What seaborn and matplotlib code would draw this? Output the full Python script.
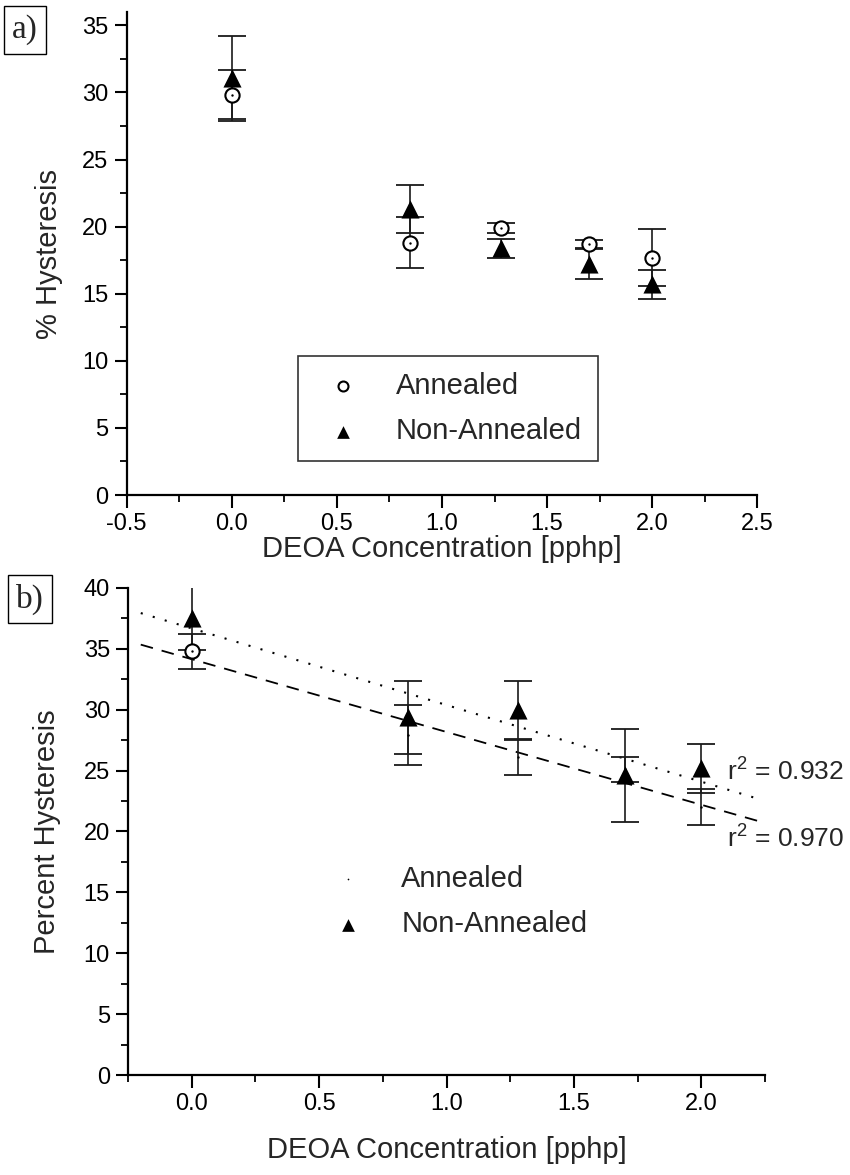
import numpy as np
import pandas as pd
import matplotlib
matplotlib.use("Agg")
import matplotlib.pyplot as plt
from matplotlib.ticker import MultipleLocator, FormatStrFormatter
import seaborn as sns

# ---- data ----
conc = [0.0, 0.85, 1.28, 1.70, 2.00]

# panel a
hyst_a_annealed = [29.8, 18.8, 19.9, 18.7, 17.7]
err_a_annealed = [1.9, 1.9, 0.4, 0.3, 2.1]
hyst_a_nonannealed = [31.1, 21.3, 18.4, 17.2, 15.7]
err_a_nonannealed = [3.1, 1.8, 0.7, 1.1, 1.1]

# panel b
hyst_b_annealed = [34.8, 27.9, 26.1, 25.1, 22.0]
err_b_annealed = [1.45, 2.45, 1.45, 1.0, 1.45]
hyst_b_nonannealed = [37.5, 29.4, 30.0, 24.6, 25.2]
err_b_nonannealed = [2.6, 3.0, 2.4, 3.8, 2.0]

r2_labels = ["r$^2$ = 0.932", "r$^2$ = 0.970"]
series_names = ["Annealed", "Non-Annealed"]

sns.set_theme(style="ticks")
plt.rcParams["font.family"] = ["Liberation Sans", "DejaVu Sans"]
plt.rcParams["mathtext.fontset"] = "custom"
plt.rcParams["mathtext.rm"] = "Liberation Sans"

fig = plt.figure(figsize=(8.5, 11.75), dpi=100)
ax1 = fig.add_axes([0.149, 0.5787, 0.742, 0.4111])
ax2 = fig.add_axes([0.1506, 0.0851, 0.7494, 0.4145])

ecol = "#1a1a1a"

def style_axes(ax):
    for s in ["top", "right"]:
        ax.spines[s].set_visible(False)
    for s in ["left", "bottom"]:
        ax.spines[s].set_linewidth(1.6)
        ax.spines[s].set_color("black")
    ax.tick_params(which="major", direction="out", length=9, width=1.5,
                   labelsize=17, colors="black", pad=4)
    ax.tick_params(which="minor", direction="out", length=5, width=1.3,
                   colors="black")
    ax.grid(False)

# ---------- panel a ----------
ax1.errorbar(conc, hyst_a_nonannealed, yerr=err_a_nonannealed, fmt="none",
             ecolor=ecol, elinewidth=1.2, capsize=10, capthick=1.3, zorder=2)
ax1.errorbar(conc, hyst_a_annealed, yerr=err_a_annealed, fmt="none",
             ecolor=ecol, elinewidth=1.2, capsize=10, capthick=1.3, zorder=2)
sns.scatterplot(x=conc, y=hyst_a_annealed, ax=ax1, marker="o", s=105,
                facecolor="white", edgecolor="black", linewidth=1.5,
                zorder=3, label=series_names[0])
sns.scatterplot(x=conc, y=hyst_a_annealed, ax=ax1, marker="o", s=3,
                color="black", linewidth=0, zorder=4)
sns.scatterplot(x=conc, y=hyst_a_nonannealed, ax=ax1, marker="^", s=170,
                color="black", linewidth=0, zorder=4, label=series_names[1])

ax1.set_xlim(-0.5, 2.5)
ax1.set_ylim(0, 36)
ax1.xaxis.set_major_locator(MultipleLocator(0.5))
ax1.xaxis.set_minor_locator(MultipleLocator(0.25))
ax1.yaxis.set_major_locator(MultipleLocator(5))
ax1.yaxis.set_minor_locator(MultipleLocator(2.5))
ax1.xaxis.set_major_formatter(FormatStrFormatter("%.1f"))
style_axes(ax1)
ax1.set_xlabel("DEOA Concentration [pphp]", fontsize=21, labelpad=0)
ax1.set_ylabel("% Hysteresis", fontsize=21, labelpad=14)

h, l = ax1.get_legend_handles_labels()
leg1 = ax1.legend(h, l, loc="upper left", bbox_to_anchor=(0.2714, 0.2878),
                  borderaxespad=0, fontsize=21, frameon=True, fancybox=False,
                  edgecolor="black", handletextpad=0.82, borderpad=0.54,
                  labelspacing=0.6, markerscale=0.7, handlelength=2.0)
leg1.get_frame().set_linewidth(1.2)

# ---------- panel b ----------
ax2.errorbar(conc, hyst_b_nonannealed, yerr=err_b_nonannealed, fmt="none",
             ecolor=ecol, elinewidth=1.2, capsize=10, capthick=1.3, zorder=2)
ax2.errorbar(conc, hyst_b_annealed, yerr=err_b_annealed, fmt="none",
             ecolor=ecol, elinewidth=1.2, capsize=10, capthick=1.3, zorder=2)

xfit = np.linspace(-0.2, 2.22, 50)
pa = np.polyfit(conc, hyst_b_annealed, 1)
pn = np.polyfit(conc, hyst_b_nonannealed, 1)
sns.lineplot(x=xfit, y=np.polyval(pn, xfit), ax=ax2, color="black",
             linestyle=(0, (1, 5)), linewidth=1.5, zorder=1)
sns.lineplot(x=xfit, y=np.polyval(pa, xfit), ax=ax2, color="black",
             linestyle=(0, (7, 5)), linewidth=1.3, zorder=1)

sns.scatterplot(x=conc[:1], y=hyst_b_annealed[:1], ax=ax2, marker="o", s=105,
                facecolor="white", edgecolor="black", linewidth=1.5, zorder=3)
sns.scatterplot(x=conc, y=hyst_b_annealed, ax=ax2, marker="o", s=3,
                color="black", linewidth=0, zorder=4, label=series_names[0])
sns.scatterplot(x=conc, y=hyst_b_nonannealed, ax=ax2, marker="^", s=170,
                color="black", linewidth=0, zorder=4, label=series_names[1])

ax2.text(2.10, 25.0, r2_labels[0], fontsize=19, va="center", ha="left")
ax2.text(2.10, 19.5, r2_labels[1], fontsize=19, va="center", ha="left")

ax2.set_xlim(-0.25, 2.25)
ax2.set_ylim(0, 40)
ax2.xaxis.set_major_locator(MultipleLocator(0.5))
ax2.xaxis.set_minor_locator(MultipleLocator(0.25))
ax2.yaxis.set_major_locator(MultipleLocator(5))
ax2.yaxis.set_minor_locator(MultipleLocator(2.5))
ax2.xaxis.set_major_formatter(FormatStrFormatter("%.1f"))
style_axes(ax2)
ax2.set_xlabel("DEOA Concentration [pphp]", fontsize=21, labelpad=15)
ax2.set_ylabel("Percent Hysteresis", fontsize=21, labelpad=16)

h, l = ax2.get_legend_handles_labels()
ax2.legend(h, l, loc="upper left", bbox_to_anchor=(0.275, 0.464),
           borderaxespad=0, fontsize=21, frameon=False, handletextpad=0.82,
           borderpad=0.54, labelspacing=0.6, markerscale=0.7, handlelength=2.0)

# panel labels
box = dict(boxstyle="square,pad=0.25", facecolor="white", edgecolor="black", linewidth=1.0)
fig.text(25 / 850, 1 - 30 / 1175, "a)", fontsize=24, family="Liberation Serif",
         ha="center", va="center", bbox=box)
fig.text(30 / 850, 1 - 599 / 1175, "b)", fontsize=24, family="Liberation Serif",
         ha="center", va="center", bbox=box)

fig.savefig("out.png", dpi=100)
